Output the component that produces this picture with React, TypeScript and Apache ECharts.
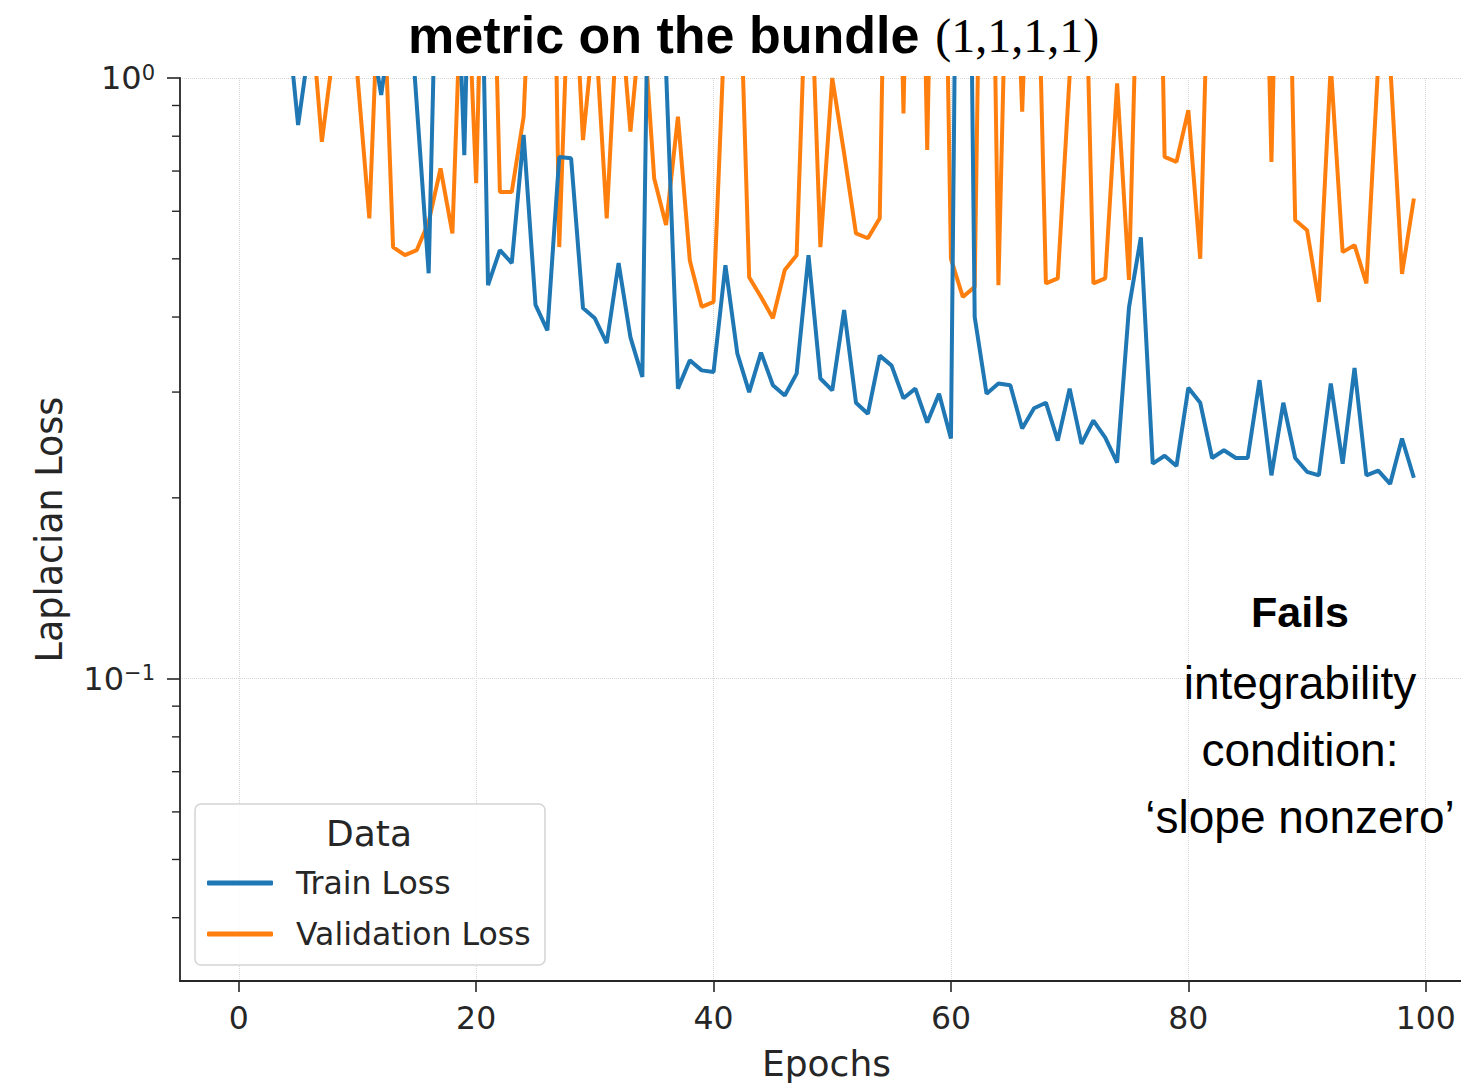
import React, { useEffect, useRef } from 'react';
import * as echarts from 'echarts';

// ---- data ----
const epochs: number[] = Array.from({ length: 100 }, (_, i) => i);

const trainLoss: number[] = [
  3.0, 3.0, 3.0, 3.0, 1.32, 0.835, 1.155, 3.0, 3.0, 3.0,
  3.0, 1.23, 0.937, 1.3, 1.72, 0.9, 0.473, 3.2, 2.7, 0.744,
  5.0, 0.452, 0.517, 0.492, 0.804, 0.419, 0.38, 0.739, 0.735, 0.414,
  0.398, 0.362, 0.492, 0.37, 0.318, 8.0, 1.03, 0.304, 0.339, 0.326,
  0.324, 0.488, 0.348, 0.3, 0.349, 0.308, 0.296, 0.322, 0.507, 0.316,
  0.302, 0.411, 0.288, 0.276, 0.345, 0.332, 0.293, 0.304, 0.267, 0.298,
  0.251, 25.0, 0.4, 0.298, 0.31, 0.308, 0.261, 0.282, 0.288, 0.249,
  0.304, 0.246, 0.269, 0.252, 0.229, 0.415, 0.543, 0.228, 0.235, 0.226,
  0.305, 0.288, 0.233, 0.24, 0.233, 0.233, 0.314, 0.218, 0.288, 0.233,
  0.221, 0.218, 0.31, 0.228, 0.329, 0.218, 0.222, 0.211, 0.251, 0.216,
];

const validationLoss: number[] = [
  3.0, 3.0, 3.0, 3.0, 3.0, 2.0, 1.36, 0.783, 1.12, 1.5,
  1.01, 0.584, 1.83, 0.523, 0.507, 0.517, 0.576, 0.707, 0.551, 2.0,
  0.668, 4.0, 0.646, 0.646, 0.862, 2.44, 10.0, 0.523, 1.9, 0.788,
  1.25, 0.584, 1.4, 0.814, 1.33, 0.68, 0.569, 0.862, 0.497, 0.416,
  0.424, 1.31, 2.08, 0.466, 0.432, 0.398, 0.479, 0.507, 1.9, 0.523,
  1.0, 0.749, 0.551, 0.541, 0.584, 8.0, 0.873, 8.0, 0.759, 8.0,
  0.5, 0.432, 0.449, 10.0, 0.452, 3.0, 0.879, 3.0, 0.455, 0.464,
  1.01, 3.0, 0.455, 0.464, 0.98, 0.461, 2.58, 8.0, 0.739, 0.725,
  0.884, 0.5, 2.6, 3.0, 3.0, 3.0, 5.0, 0.725, 5.0, 0.58,
  0.558, 0.424, 1.05, 0.513, 0.527, 0.455, 1.06, 1.06, 0.472, 0.63,
];

const seriesNames: string[] = ['Train Loss', 'Validation Loss'];
const seriesColors: string[] = ['#1f77b4', '#ff7f0e'];
const minorTickValues: number[] = [0.04, 0.05, 0.06, 0.07, 0.08, 0.09, 0.2, 0.3, 0.4, 0.5, 0.6, 0.7, 0.8, 0.9];
const annotationLines: string[] = ['integrability', 'condition:', '\u2018slope nonzero\u2019'];

const X_MIN = -4.95;
const X_MAX = 102.97;
const Y_MIN = 0.03138;
const Y_MAX = 1;

const INK = '#262626';

export default function App() {
  const ref = useRef<HTMLDivElement>(null);

  useEffect(() => {
    if (!ref.current) return;
    const chart = echarts.init(ref.current, undefined, { renderer: 'svg' });

    const trainData = epochs.map((e, i) => [e, trainLoss[i]]);
    const valData = epochs.map((e, i) => [e, validationLoss[i]]);

    const option: any = {
      animation: false,
      backgroundColor: '#ffffff',
      title: {
        text: '{b|metric on the bundle}{sp|}{r|(1,1,1,1)}',
        left: 403,
        top: 4,
        textStyle: {
          rich: {
            b: { fontFamily: 'Liberation Sans', fontWeight: 'bold', fontSize: 52, color: '#000' },
            sp: { width: 16 },
            r: { fontFamily: 'Liberation Serif', fontWeight: 'normal', fontSize: 48, color: '#000' },
          },
        },
      },
      grid: { left: 180, top: 78, right: 0, height: 903 },
      legend: {
        data: seriesNames,
        orient: 'vertical',
        left: 207,
        top: 865,
        padding: 0,
        icon: 'roundRect',
        itemWidth: 66,
        itemHeight: 5,
        itemGap: 15,
        z: 6,
        textStyle: {
          fontSize: 31.5,
          fontFamily: 'DejaVu Sans',
          color: INK,
          lineHeight: 36,
          padding: [0, 0, 0, 18],
        },
      },
      xAxis: {
        type: 'value',
        min: X_MIN,
        max: X_MAX,
        name: 'Epochs',
        nameLocation: 'middle',
        nameGap: 64,
        nameTextStyle: { fontSize: 36, fontFamily: 'DejaVu Sans', color: INK, padding: [0, 0, 0, 12] },
        axisLine: { show: true, onZero: false, lineStyle: { color: INK, width: 1.8 } },
        axisTick: { show: true, length: 11, lineStyle: { color: INK, width: 1.6 } },
        axisLabel: {
          showMinLabel: false,
          showMaxLabel: false,
          margin: 21,
          fontSize: 31.5,
          fontFamily: 'DejaVu Sans',
          color: INK,
        },
        splitLine: { show: true, lineStyle: { type: 'dotted', color: '#d6d6d6', width: 1 } },
      },
      yAxis: {
        type: 'log',
        logBase: 10,
        min: Y_MIN,
        max: Y_MAX,
        name: 'Laplacian Loss',
        nameLocation: 'middle',
        nameGap: 112,
        nameTextStyle: { fontSize: 36.5, fontFamily: 'DejaVu Sans', color: INK },
        axisLine: { show: true, onZero: false, lineStyle: { color: INK, width: 1.8 } },
        axisTick: { show: true, length: 13, lineStyle: { color: INK, width: 1.6 } },
        axisLabel: {
          showMinLabel: false,
          margin: 25,
          formatter: (v: number) => {
            const e = Math.round(Math.log10(v));
            if (Math.abs(v - Math.pow(10, e)) > 1e-9) return '';
            return '{b|10}{s|' + (e < 0 ? '\u2212' + Math.abs(e) : String(e)) + '}';
          },
          rich: {
            b: { fontSize: 32, fontFamily: 'DejaVu Sans', color: INK, lineHeight: 32, verticalAlign: 'bottom' },
            s: { fontSize: 21, fontFamily: 'DejaVu Sans', color: INK, lineHeight: 21, verticalAlign: 'top' },
          },
        },
        splitLine: { show: true, lineStyle: { type: 'dotted', color: '#d6d6d6', width: 1 } },
      },
      graphic: [
        {
          type: 'rect',
          z: 5,
          shape: { x: 195, y: 804, width: 350, height: 161, r: 6 },
          style: { fill: 'rgba(255,255,255,0.85)', stroke: '#d4d4d4', lineWidth: 1.5 },
        },
        {
          type: 'text',
          z: 6,
          style: {
            text: 'Data', x: 369, y: 833, align: 'center', verticalAlign: 'middle',
            fontSize: 36, fontFamily: 'DejaVu Sans', fill: INK,
          },
        },
        {
          type: 'text',
          z: 6,
          style: {
            text: 'Fails', x: 1300, y: 612, align: 'center', verticalAlign: 'middle',
            fontSize: 43, fontWeight: 'bold', fontFamily: 'Liberation Sans', fill: '#000',
          },
        },
        ...annotationLines.map((t, i) => ({
          type: 'text',
          z: 6,
          style: {
            text: t, x: 1300, y: 683 + i * 67, align: 'center', verticalAlign: 'middle',
            fontSize: 46, fontFamily: 'Liberation Sans', fill: '#000',
          },
        })),
      ],
      series: [
        {
          name: seriesNames[0],
          type: 'line',
          data: trainData,
          showSymbol: false,
          symbol: 'none',
          clip: true,
          z: 3,
          color: seriesColors[0],
          lineStyle: { color: seriesColors[0], width: 4 },
        },
        {
          name: seriesNames[1],
          type: 'line',
          data: valData,
          showSymbol: false,
          symbol: 'none',
          clip: true,
          z: 2,
          color: seriesColors[1],
          lineStyle: { color: seriesColors[1], width: 4 },
        },
        {
          name: 'minor-ticks',
          type: 'custom',
          silent: true,
          clip: false,
          data: minorTickValues.map((v) => [X_MIN, v]),
          renderItem: (params: any, api: any) => {
            const p = api.coord([X_MIN, api.value(1)]);
            return {
              type: 'line',
              shape: { x1: p[0] - 8, y1: p[1], x2: p[0], y2: p[1] },
              style: { stroke: INK, lineWidth: 1.4 },
            };
          },
        },
      ],
    };

    chart.setOption(option);
    return () => chart.dispose();
  }, []);

  return (
    <div
      ref={ref}
      style={{ position: 'fixed', left: 0, top: 0, width: 1461, height: 1090, background: '#fff' }}
    />
  );
}
